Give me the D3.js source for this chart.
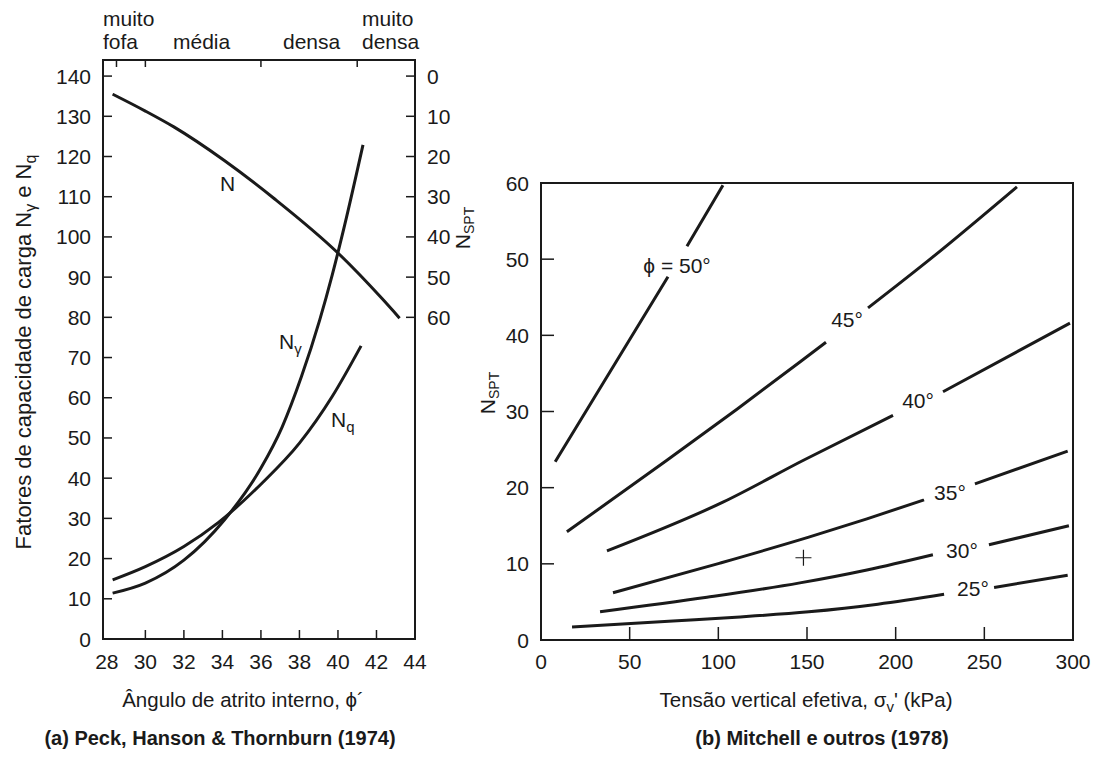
<!DOCTYPE html>
<html>
<head>
<meta charset="utf-8">
<script src="https://cdn.jsdelivr.net/npm/d3@7"></script>
<style>
  body { margin: 0; background: #fff; }
  svg { display: block; font-family: "Liberation Sans", Arial, sans-serif; }
</style>
</head>
<body>
<div id="chart"></div>
<script>
// ---- panel (a) data: Peck, Hanson & Thornburn ----
const phiTicks = [28, 30, 32, 34, 36, 38, 40, 42, 44];
const factorTicks = [0, 10, 20, 30, 40, 50, 60, 70, 80, 90, 100, 110, 120, 130, 140];
const nsptTicksA = [0, 10, 20, 30, 40, 50, 60];
const densityBounds = [28.5, 30, 36, 41];

const phiN = [28.3, 30.0, 31.5, 34.1, 36.7, 40.0, 42.3, 43.2];
const nsptN = [4.5, 8.7, 12.7, 21.0, 30.5, 44.0, 55.4, 60.2];

const phiNg = [28.3, 30.0, 32.0, 34.1, 36.0, 37.1, 38.1, 39.05, 39.7, 40.35, 41.3];
const valNg = [11.4, 13.9, 19.6, 29.6, 42.5, 52.7, 65.2, 79.3, 90.5, 103.0, 122.9];

const phiNq = [28.3, 30.0, 32.0, 33.8, 36.0, 38.0, 39.7, 41.2];
const valNq = [14.7, 18.0, 23.0, 29.0, 38.5, 48.7, 60.3, 72.9];

// ---- panel (b) data: Mitchell e outros ----
const sigmaTicks = [0, 50, 100, 150, 200, 250, 300];
const nsptTicksB = [0, 10, 20, 30, 40, 50, 60];

// null = gap left for the curve label
const sig50 = [8, 30, 71.6, null, 82.3, 102.6];
const n50   = [23.4, 31.8, 47.7, null, 51.7, 59.7];
const sig45 = [14.6, 71, 110.5, 146, 160.7, null, 184.4, 221, 268.4];
const n45   = [14.2, 23.6, 30.3, 36.5, 39.1, null, 43.6, 50.3, 59.5];
const sig40 = [37.2, 102.6, 148, 198.5, null, 226.7, 298.3];
const n40   = [11.7, 18.1, 23.6, 29.5, null, 32.6, 41.6];
const sig35 = [40.6, 101, 151, 183.8, 216, null, 244.7, 297];
const n35   = [6.2, 10.1, 13.5, 15.9, 18.4, null, 20.5, 24.8];
const sig30 = [33.3, 93.6, 146, 183.8, 221, null, 252.6, 297.7];
const n30   = [3.7, 5.6, 7.5, 9.2, 11.2, null, 12.5, 15.0];
const sig25 = [17.5, 74.4, 110, 151, 190, 227.3, null, 255.5, 297];
const n25   = [1.7, 2.5, 3.0, 3.7, 4.7, 6.0, null, 6.9, 8.5];

const phiLabels = ["ϕ = 50°", "45°", "40°", "35°", "30°", "25°"];
const labelSig = [76.7, 172.6, 212.6, 230.6, 237.4, 243.6];
const labelN = [49.2, 42.1, 31.5, 19.4, 11.8, 6.8];
const crossMark = [148, 10.8];

const width = 1104, height = 774;
const ink = "#1a1a1a";
const fs = 21;

const svg = d3.select("#chart").append("svg")
    .attr("width", width)
    .attr("height", height);

// ================= panel (a) =================
const xA = d3.scaleLinear().domain([27.8, 44]).range([103, 415]);
const yA = d3.scaleLinear().domain([0, 144]).range([639, 60]);
const yNs = d3.scaleLinear().domain([-4, 140]).range([60, 639]);

const gA = svg.append("g");

gA.append("rect")
    .attr("x", xA(27.8)).attr("y", yA(144))
    .attr("width", xA(44) - xA(27.8)).attr("height", yA(0) - yA(144))
    .attr("fill", "none").attr("stroke", ink).attr("stroke-width", 2);

// bottom ticks (inward)
gA.selectAll(".xt").data(phiTicks.slice(1, -1)).join("line")
    .attr("x1", d => xA(d)).attr("x2", d => xA(d))
    .attr("y1", yA(0)).attr("y2", yA(0) - 9)
    .attr("stroke", ink).attr("stroke-width", 1.5);
gA.selectAll(".xl").data(phiTicks).join("text")
    .attr("x", d => xA(d)).attr("y", 669)
    .attr("text-anchor", "middle").attr("font-size", fs).attr("fill", ink)
    .text(d => d);

// left ticks
gA.selectAll(".yt").data(factorTicks).join("line")
    .attr("x1", xA(27.8)).attr("x2", xA(27.8) + 9)
    .attr("y1", d => yA(d)).attr("y2", d => yA(d))
    .attr("stroke", ink).attr("stroke-width", 1.5);
gA.selectAll(".yl").data(factorTicks).join("text")
    .attr("x", 91).attr("y", d => yA(d) + 7.5)
    .attr("text-anchor", "end").attr("font-size", fs).attr("fill", ink)
    .text(d => d);

// right NSPT ticks
gA.selectAll(".nt").data(nsptTicksA).join("line")
    .attr("x1", xA(44)).attr("x2", xA(44) - 9)
    .attr("y1", d => yNs(d)).attr("y2", d => yNs(d))
    .attr("stroke", ink).attr("stroke-width", 1.5);
gA.selectAll(".nl").data(nsptTicksA).join("text")
    .attr("x", 427).attr("y", d => yNs(d) + 7.5)
    .attr("text-anchor", "start").attr("font-size", fs).attr("fill", ink)
    .text(d => d);

// top density ticks
gA.selectAll(".dt").data(densityBounds).join("line")
    .attr("x1", d => xA(d)).attr("x2", d => xA(d))
    .attr("y1", yA(144)).attr("y2", yA(144) + 7)
    .attr("stroke", ink).attr("stroke-width", 1.5);

const densityText = [
    { t: "muito", x: 103, y: 26 }, { t: "fofa", x: 103, y: 49 },
    { t: "média", x: 173, y: 49 }, { t: "densa", x: 283, y: 49 },
    { t: "muito", x: 362, y: 26 }, { t: "densa", x: 362, y: 49 }
];
gA.selectAll(".dl").data(densityText).join("text")
    .attr("x", d => d.x).attr("y", d => d.y)
    .attr("font-size", fs).attr("fill", ink)
    .text(d => d.t);

const lineA = d3.line().curve(d3.curveMonotoneX);

gA.append("path")
    .attr("d", lineA(phiN.map((p, i) => [xA(p), yNs(nsptN[i])])))
    .attr("fill", "none").attr("stroke", ink).attr("stroke-width", 3);
gA.append("path")
    .attr("d", lineA(phiNg.map((p, i) => [xA(p), yA(valNg[i])])))
    .attr("fill", "none").attr("stroke", ink).attr("stroke-width", 3);
gA.append("path")
    .attr("d", lineA(phiNq.map((p, i) => [xA(p), yA(valNq[i])])))
    .attr("fill", "none").attr("stroke", ink).attr("stroke-width", 3);

gA.append("text").attr("x", 220).attr("y", 191)
    .attr("font-size", fs).attr("fill", ink).text("N");
const tNg = gA.append("text").attr("x", 279).attr("y", 349)
    .attr("font-size", fs).attr("fill", ink);
tNg.append("tspan").text("N");
tNg.append("tspan").attr("dy", 5).attr("font-size", 15).text("γ");
const tNq = gA.append("text").attr("x", 331).attr("y", 427)
    .attr("font-size", fs).attr("fill", ink);
tNq.append("tspan").text("N");
tNq.append("tspan").attr("dy", 5).attr("font-size", 15).text("q");

// axis titles
gA.append("text").attr("x", 243).attr("y", 707)
    .attr("text-anchor", "middle").attr("font-size", 20.5).attr("fill", ink)
    .text("Ângulo de atrito interno, ϕ´");

const tY = gA.append("text")
    .attr("transform", "translate(31,352) rotate(-90)")
    .attr("text-anchor", "middle").attr("font-size", 22).attr("fill", ink);
tY.append("tspan").text("Fatores de capacidade de carga N");
tY.append("tspan").attr("dy", 5).attr("font-size", 16).text("γ");
tY.append("tspan").attr("dy", -5).text(" e N");
tY.append("tspan").attr("dy", 5).attr("font-size", 16).text("q");

const tNs = gA.append("text")
    .attr("transform", "translate(470,228) rotate(-90)")
    .attr("text-anchor", "middle").attr("font-size", fs).attr("fill", ink);
tNs.append("tspan").text("N");
tNs.append("tspan").attr("dy", 4).attr("font-size", 14).text("SPT");

gA.append("text").attr("x", 220).attr("y", 745)
    .attr("text-anchor", "middle").attr("font-size", 20).attr("font-weight", "bold")
    .attr("fill", ink).text("(a) Peck, Hanson & Thornburn (1974)");

// ================= panel (b) =================
const xB = d3.scaleLinear().domain([0, 300]).range([541, 1073]);
const yB = d3.scaleLinear().domain([0, 60]).range([640, 183]);

const gB = svg.append("g");

gB.append("rect")
    .attr("x", xB(0)).attr("y", yB(60))
    .attr("width", xB(300) - xB(0)).attr("height", yB(0) - yB(60))
    .attr("fill", "none").attr("stroke", ink).attr("stroke-width", 2);

gB.selectAll(".xt").data(sigmaTicks.slice(1, -1)).join("line")
    .attr("x1", d => xB(d)).attr("x2", d => xB(d))
    .attr("y1", yB(0)).attr("y2", yB(0) - 13)
    .attr("stroke", ink).attr("stroke-width", 1.5);
gB.selectAll(".xl").data(sigmaTicks).join("text")
    .attr("x", d => xB(d)).attr("y", 669)
    .attr("text-anchor", "middle").attr("font-size", fs).attr("fill", ink)
    .text(d => d);

gB.selectAll(".yt").data(nsptTicksB).join("line")
    .attr("x1", xB(0)).attr("x2", xB(0) + 13)
    .attr("y1", d => yB(d)).attr("y2", d => yB(d))
    .attr("stroke", ink).attr("stroke-width", 1.5);
gB.selectAll(".yl").data(nsptTicksB).join("text")
    .attr("x", 529).attr("y", d => yB(d) + 7.5)
    .attr("text-anchor", "end").attr("font-size", fs).attr("fill", ink)
    .text(d => d);

const lineB = d3.line()
    .defined(d => d !== null)
    .x(d => xB(d[0])).y(d => yB(d[1]))
    .curve(d3.curveMonotoneX);

const curvesB = [[sig50, n50], [sig45, n45], [sig40, n40], [sig35, n35], [sig30, n30], [sig25, n25]];
gB.selectAll(".curve").data(curvesB).join("path")
    .attr("d", ([s, n]) => lineB(s.map((v, i) => v === null ? null : [v, n[i]])))
    .attr("fill", "none").attr("stroke", ink).attr("stroke-width", 3);

gB.selectAll(".clabel").data(phiLabels).join("text")
    .attr("x", (d, i) => xB(labelSig[i])).attr("y", (d, i) => yB(labelN[i]) + 7.5)
    .attr("text-anchor", "middle").attr("font-size", fs).attr("fill", ink)
    .text(d => d);

// small cross mark
gB.append("path")
    .attr("d", `M${xB(crossMark[0]) - 8},${yB(crossMark[1])}h16M${xB(crossMark[0])},${yB(crossMark[1]) - 8}v16`)
    .attr("stroke", ink).attr("stroke-width", 1.2);

const tS = gB.append("text").attr("x", 806).attr("y", 707)
    .attr("text-anchor", "middle").attr("font-size", 20.5).attr("fill", ink);
tS.append("tspan").text("Tensão vertical efetiva, σ");
tS.append("tspan").attr("dy", 5).attr("font-size", 15).text("v");
tS.append("tspan").attr("dy", -5).text("' (kPa)");

const tNb = gB.append("text")
    .attr("transform", "translate(495,393) rotate(-90)")
    .attr("text-anchor", "middle").attr("font-size", fs).attr("fill", ink);
tNb.append("tspan").text("N");
tNb.append("tspan").attr("dy", 4).attr("font-size", 14).text("SPT");

gB.append("text").attr("x", 822).attr("y", 745)
    .attr("text-anchor", "middle").attr("font-size", 20).attr("font-weight", "bold")
    .attr("fill", ink).text("(b) Mitchell e outros (1978)");
</script>
</body>
</html>
